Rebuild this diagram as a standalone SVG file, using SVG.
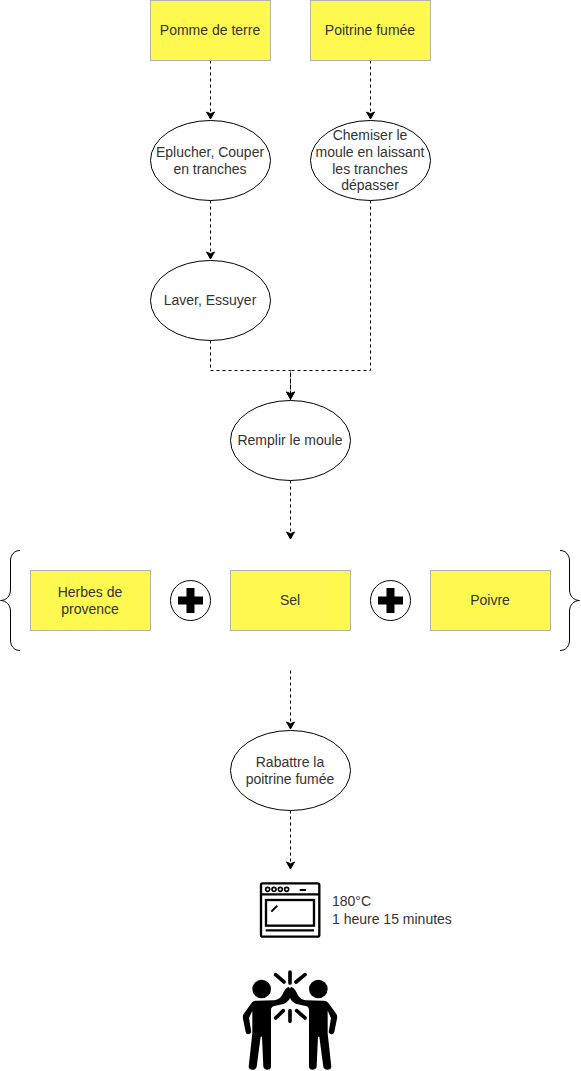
<svg xmlns="http://www.w3.org/2000/svg" width="581" height="1071" viewBox="0 0 581 1071">
<style>
.box{fill:#fff94f;stroke:#b3b3b3;stroke-width:1}
.oval{fill:#fff;stroke:#000;stroke-width:1}
text{font-family:"Liberation Sans",Arial,sans-serif;font-size:14px;fill:#333;text-anchor:middle}
.con{fill:none;stroke:#000;stroke-width:1;stroke-dasharray:3 3}
.brace{fill:none;stroke:#000;stroke-width:1}
.spark{fill:none;stroke:#000;stroke-width:11;stroke-linecap:round}
</style>
<defs>
<marker id="arrow" markerUnits="userSpaceOnUse" markerWidth="12" markerHeight="12" refX="8" refY="4" orient="auto" overflow="visible"><path d="M0 0L7 4L0 8L1.75 4Z" fill="#000" stroke="#000" stroke-width="1"/></marker>
<g id="plus"><circle r="20" fill="#fff" stroke="#000"/><path d="M-4 -12.5H4V-4H12.5V4H4V12.5H-4V4H-12.5V-4H-4Z" fill="#000"/></g>
<path id="person" d="M175 381C168 383 163 392 158 402C152 414 146 418 132 421L80 422C72 422 67 425 63 431L41 462C38 467 38 471 39 476L47 516C49 525 61 524 64 517L57 474L67 452V520L56 620C56 632 78 632 80 620L92 530H96L100 620C102 632 123 632 123 620V450C123 444 126 440 133 438L160 432C170 428 176 422 180 414V390C180 384 178 381 175 381Z" fill="#000"/>
</defs>
<g id="connectors">
<path class="con" marker-end="url(#arrow)" d="M210.5 60.5V120"/>
<path class="con" marker-end="url(#arrow)" d="M370.5 60.5V120"/>
<path class="con" marker-end="url(#arrow)" d="M210.5 200.5V260"/>
<path class="con" marker-end="url(#arrow)" d="M210.5 340.5V370.5H290.5V400"/>
<path class="con" marker-end="url(#arrow)" d="M370.5 200.5V370.5H290.5V400"/>
<path class="con" marker-end="url(#arrow)" d="M290.5 480.5V540"/>
<path class="con" marker-end="url(#arrow)" d="M290.5 670.5V730"/>
<path class="con" marker-end="url(#arrow)" d="M290.5 810.5V870"/>
</g>
<g id="pomme"><rect class="box" x="150.5" y="0.5" width="120" height="60"/><text x="210" y="35">Pomme de terre</text></g>
<g id="poitrine"><rect class="box" x="310.5" y="0.5" width="120" height="60"/><text x="370" y="35">Poitrine fumée</text></g>
<g id="eplucher"><ellipse class="oval" cx="210.5" cy="160.5" rx="60" ry="40"/><text x="210" y="157">Eplucher, Couper</text><text x="210" y="174">en tranches</text></g>
<g id="chemiser"><ellipse class="oval" cx="370.5" cy="160.5" rx="60" ry="40"/><text x="370" y="140">Chemiser le</text><text x="370" y="157">moule en laissant</text><text x="370" y="174">les tranches</text><text x="370" y="190">dépasser</text></g>
<g id="laver"><ellipse class="oval" cx="210.5" cy="300.5" rx="60" ry="40"/><text x="210" y="305">Laver, Essuyer</text></g>
<g id="remplir"><ellipse class="oval" cx="290.5" cy="440.5" rx="60" ry="40"/><text x="290" y="445">Remplir le moule</text></g>
<g id="brace-left"><path class="brace" d="M20 550.5C14 550.5 10.5 555 10.5 561V590C10.5 596 6 600.5 0.5 600.5C6 600.5 10.5 605 10.5 611V640C10.5 646 14 650.5 20 650.5"/></g>
<g id="herbes"><rect class="box" x="30.5" y="570.5" width="120" height="60"/><text x="90" y="597">Herbes de</text><text x="90" y="614">provence</text></g>
<g id="plus1"><use href="#plus" x="190.5" y="600.5"/></g>
<g id="sel"><rect class="box" x="230.5" y="570.5" width="120" height="60"/><text x="290" y="605">Sel</text></g>
<g id="plus2"><use href="#plus" x="390.5" y="600.5"/></g>
<g id="poivre"><rect class="box" x="430.5" y="570.5" width="120" height="60"/><text x="490" y="605">Poivre</text></g>
<g id="brace-right"><path class="brace" d="M560 550.5C566 550.5 569.5 555 569.5 561V590C569.5 596 574 600.5 579.5 600.5C574 600.5 569.5 605 569.5 611V640C569.5 646 566 650.5 560 650.5"/></g>
<g id="rabattre"><ellipse class="oval" cx="290.5" cy="770.5" rx="60" ry="40"/><text x="290" y="767">Rabattre la</text><text x="290" y="784">poitrine fumée</text></g>
<g id="four" transform="translate(230 860) scale(0.3333)">
<rect x="93" y="70" width="175" height="160" rx="5" fill="#fff" stroke="#000" stroke-width="7"/>
<path d="M93 103H268" stroke="#000" stroke-width="7"/>
<g fill="none" stroke="#000" stroke-width="5"><circle cx="113" cy="88" r="6"/><circle cx="132" cy="88" r="6"/><circle cx="151" cy="88" r="6"/><circle cx="170" cy="88" r="6"/></g>
<path d="M209 90H228" stroke="#000" stroke-width="6"/>
<rect x="108" y="120" width="144" height="77" fill="none" stroke="#000" stroke-width="7"/>
<path d="M124 155L142 137" stroke="#000" stroke-width="6"/>
<path d="M107 211H252" stroke="#000" stroke-width="7"/>
</g>
<g id="cuisson"><text x="332" y="906" style="text-anchor:start">180°C</text>
<text x="332" y="924" style="text-anchor:start">1 heure 15 minutes</text></g>
<g id="bravo" transform="translate(230 860) scale(0.3333)">
<circle cx="95" cy="387" r="28"/><circle cx="265" cy="387" r="28"/>
<use href="#person"/>
<use href="#person" transform="translate(360 0) scale(-1 1)"/>
<path class="spark" d="M180 336V369M137 344L162 366M225 344L198 366M180 452V484M160 452L137 474M200 452L225 474"/>
</g>
</svg>
